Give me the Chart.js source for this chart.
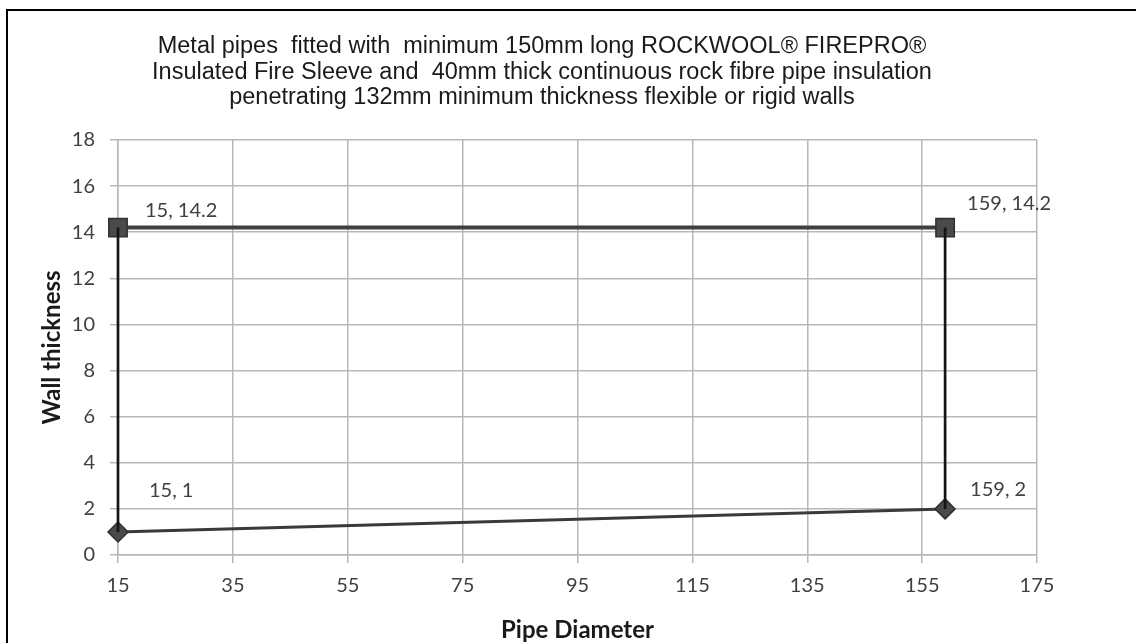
<!DOCTYPE html>
<html>
<head>
<meta charset="utf-8">
<script src="https://cdn.jsdelivr.net/npm/chart.js@4/dist/chart.umd.min.js"></script>
<style>
  body { margin: 0; background: #fff; }
  #frame {
    position: absolute; left: 6px; top: 9px;
    width: 1130px; height: 634px;
    border-top: 2px solid #000; border-left: 2px solid #000;
  }
</style>
</head>
<body>
<div id="frame"><canvas id="pipeChart" width="1128" height="632"></canvas></div>
<script>
// values
const pipeDiameters = [15, 159];
const maxThickness = [14.2, 14.2];
const minThickness = [1, 2];
const titleLines = [
  "Metal pipes  fitted with  minimum 150mm long ROCKWOOL\u00AE FIREPRO\u00AE",
  "Insulated Fire Sleeve and  40mm thick continuous rock fibre pipe insulation",
  "penetrating 132mm minimum thickness flexible or rigid walls"
];

const toPoints = ys => pipeDiameters.map((x, i) => ({ x: x, y: ys[i] }));
const edge = i => [{ x: pipeDiameters[i], y: minThickness[i] }, { x: pipeDiameters[i], y: maxThickness[i] }];

// "x, y" labels next to the markers (Excel style)
const labelOffsets = { 2: [[27, -17], [22, -24]], 3: [[31, -41], [25, -19]] };
const pointLabels = {
  id: 'pointLabels',
  afterDatasetsDraw(chart) {
    const ctx = chart.ctx;
    ctx.save();
    ctx.font = '20px Lato';
    ctx.fillStyle = '#404040';
    ctx.textAlign = 'left';
    ctx.textBaseline = 'middle';
    Object.keys(labelOffsets).forEach(di => {
      const ds = chart.data.datasets[di];
      chart.getDatasetMeta(di).data.forEach((pt, i) => {
        const off = labelOffsets[di][i];
        ctx.fillText(ds.data[i].x + ', ' + ds.data[i].y, pt.x + off[0], pt.y + off[1]);
      });
    });
    ctx.restore();
  }
};

const gridColor = '#b8b8b8';

new Chart(document.getElementById('pipeChart'), {
  type: 'scatter',
  data: {
    datasets: [
      { data: edge(0), showLine: true, clip: false, borderColor: '#151515', borderWidth: 2.7, pointRadius: 0 },
      { data: edge(1), showLine: true, clip: false, borderColor: '#151515', borderWidth: 2.7, pointRadius: 0 },
      {
        label: 'Max', data: toPoints(maxThickness), showLine: true, clip: false,
        borderColor: '#404040', borderWidth: 4,
        pointStyle: 'rect', pointRadius: 13, pointBackgroundColor: '#4a4a4a',
        pointBorderColor: '#303030', pointBorderWidth: 1.5
      },
      {
        label: 'Min', data: toPoints(minThickness), showLine: true, clip: false,
        borderColor: '#3a3a3a', borderWidth: 3,
        pointStyle: 'rectRot', pointRadius: 10, pointBackgroundColor: '#4a4a4a',
        pointBorderColor: '#303030', pointBorderWidth: 1.5
      }
    ]
  },
  options: {
    responsive: false,
    animation: false,
    layout: { padding: { left: 39, right: 99, top: 0, bottom: 0 } },
    plugins: {
      legend: { display: false },
      tooltip: { enabled: false },
      title: {
        display: true,
        text: titleLines,
        color: '#1a1a1a',
        font: { family: 'Liberation Sans', size: 23.5, weight: 'normal', lineHeight: '25.5px' },
        padding: { top: 23.25, bottom: 29.25 }
      }
    },
    scales: {
      x: {
        type: 'linear', min: 15, max: 175,
        ticks: { stepSize: 20, color: '#404040', font: { family: 'Lato', size: 20 }, padding: 11 },
        grid: { color: gridColor, lineWidth: 1.5, tickLength: 8 },
        border: { color: gridColor, width: 1.5 },
        title: {
          display: true, text: 'Pipe Diameter', color: '#1a1a1a',
          font: { family: 'Lato', size: 24, weight: 'bold', lineHeight: 1 },
          padding: { top: 0, bottom: 1 }
        },
        afterFit: s => { s.height = 88; }
      },
      y: {
        min: 0, max: 18,
        ticks: { stepSize: 2, color: '#404040', font: { family: 'Lato', size: 20 }, padding: 15 },
        grid: { color: gridColor, lineWidth: 1.5, tickLength: 8 },
        border: { color: gridColor, width: 1.5 },
        title: {
          display: true, text: 'Wall thickness', color: '#1a1a1a',
          font: { family: 'Lato', size: 24, weight: 'bold', lineHeight: 1 },
          padding: { top: -7, bottom: 0 }
        },
        afterFit: s => { s.width = 71; }
      }
    }
  },
  plugins: [pointLabels]
});
</script>
</body>
</html>
